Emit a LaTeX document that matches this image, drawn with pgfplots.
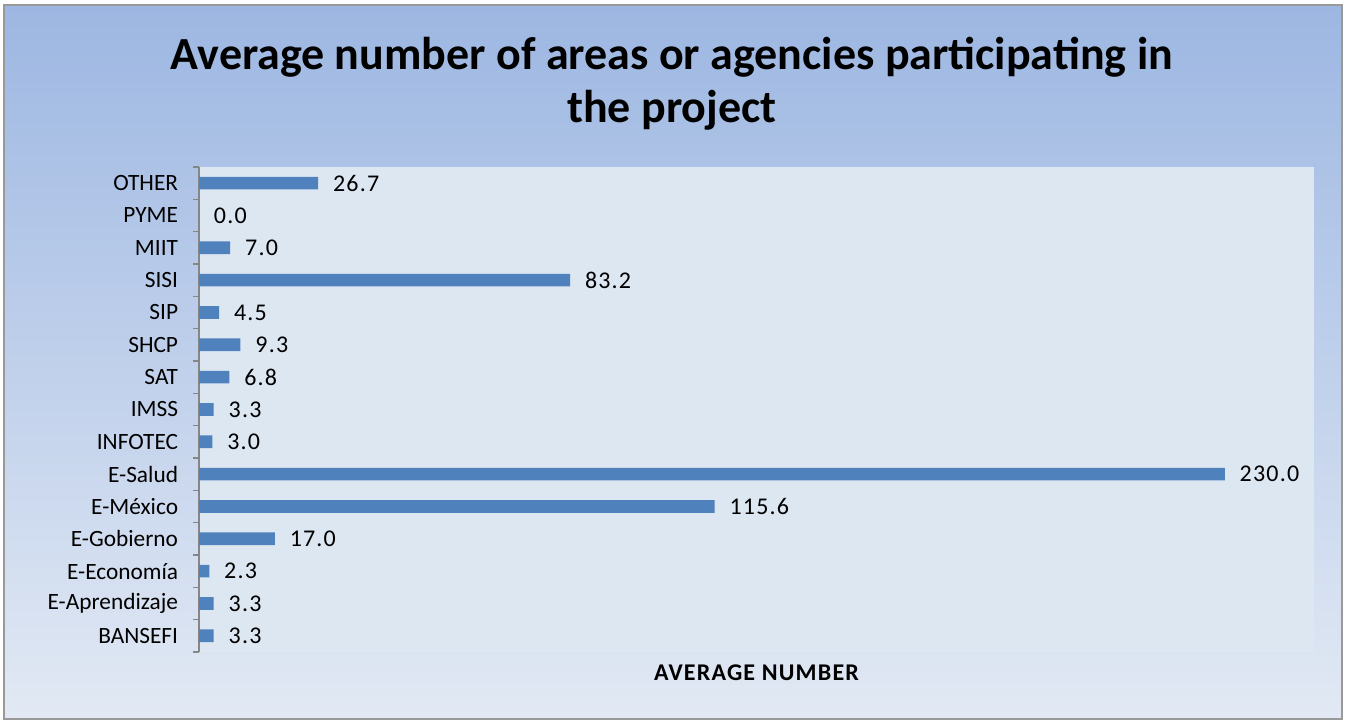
\documentclass[border=0pt]{standalone}
\usepackage{fontspec}
\setmainfont{Carlito}
\newfontfamily\spaced[LetterSpace=5]{Carlito}
\usepackage{pgfplots}
\pgfplotsset{compat=1.18}
\definecolor{barblue}{HTML}{4F81BD}
\definecolor{bgtop}{HTML}{9DB7E2}
\definecolor{bgbot}{HTML}{E2E9F4}
\definecolor{plotbg}{HTML}{DDE7F2}
\definecolor{axisgray}{HTML}{868686}

\begin{document}
\begin{tikzpicture}[x=0.75pt,y=0.75pt]
  \useasboundingbox (0,0) rectangle (1345,720);
  \fill[white] (0,0) rectangle (1345,720);
  \shade[top color=bgtop, bottom color=bgbot] (4,1) rectangle (1342,715);
  \draw[gray!80, line width=1pt] (4,1) rectangle (1342,715);
  \node[align=center, font=\bfseries\fontsize{34.5}{39.5}\selectfont, text=black]
    at (672,636) {Average number of areas or agencies participating in\\the project};

  \begin{axis}[
      at={(149.25pt,51pt)}, anchor=south west,
      scale only axis,
      width=836.25pt, height=363.75pt,
      xbar, point meta=x,
      xmin=0, xmax=250,
      ymin=0.5, ymax=15.5,
      axis background/.style={fill=plotbg},
      axis lines*=left,
      x axis line style={draw=none},
      y axis line style={draw=axisgray, line width=0.9pt},
      xtick=\empty,
      ytick={1,...,15},
      yticklabels={BANSEFI,E-Aprendizaje,E-Economía,E-Gobierno,E-México,E-Salud,INFOTEC,IMSS,SAT,SHCP,SIP,SISI,MIIT,PYME,OTHER},
      minor ytick={0.5,1.5,...,15.5},
      major tick length=0pt,
      minor tick length=4.5pt,
      tick align=outside,
      minor tick style={draw=axisgray, line width=0.9pt},
      yticklabel style={font=\fontsize{17.5}{20}\selectfont, text=black, inner sep=0pt, xshift=-15.5pt},
      xlabel={AVERAGE NUMBER},
      xlabel style={at={(axis description cs:0.5,0)}, anchor=center, yshift=-15.5pt,
        font=\spaced\bfseries\fontsize{18}{20}\selectfont, text=black},
      nodes near coords,
      every node near coord/.append style={anchor=west, inner sep=0pt, xshift=11pt,
        font=\spaced\fontsize{18}{20}\selectfont, text=black},
      /pgf/number format/.cd, fixed, zerofill, precision=1, assume math mode=true,
    ]
    \addplot[fill=barblue, draw=none, bar width=9.5pt] coordinates {
      (3.3,1) (3.3,2) (2.3,3) (17.0,4) (115.6,5) (230.0,6) (3.0,7) (3.3,8)
      (6.8,9) (9.3,10) (4.5,11) (83.2,12) (7.0,13) (0.0,14) (26.7,15)};
  \end{axis}
\end{tikzpicture}
\end{document}
